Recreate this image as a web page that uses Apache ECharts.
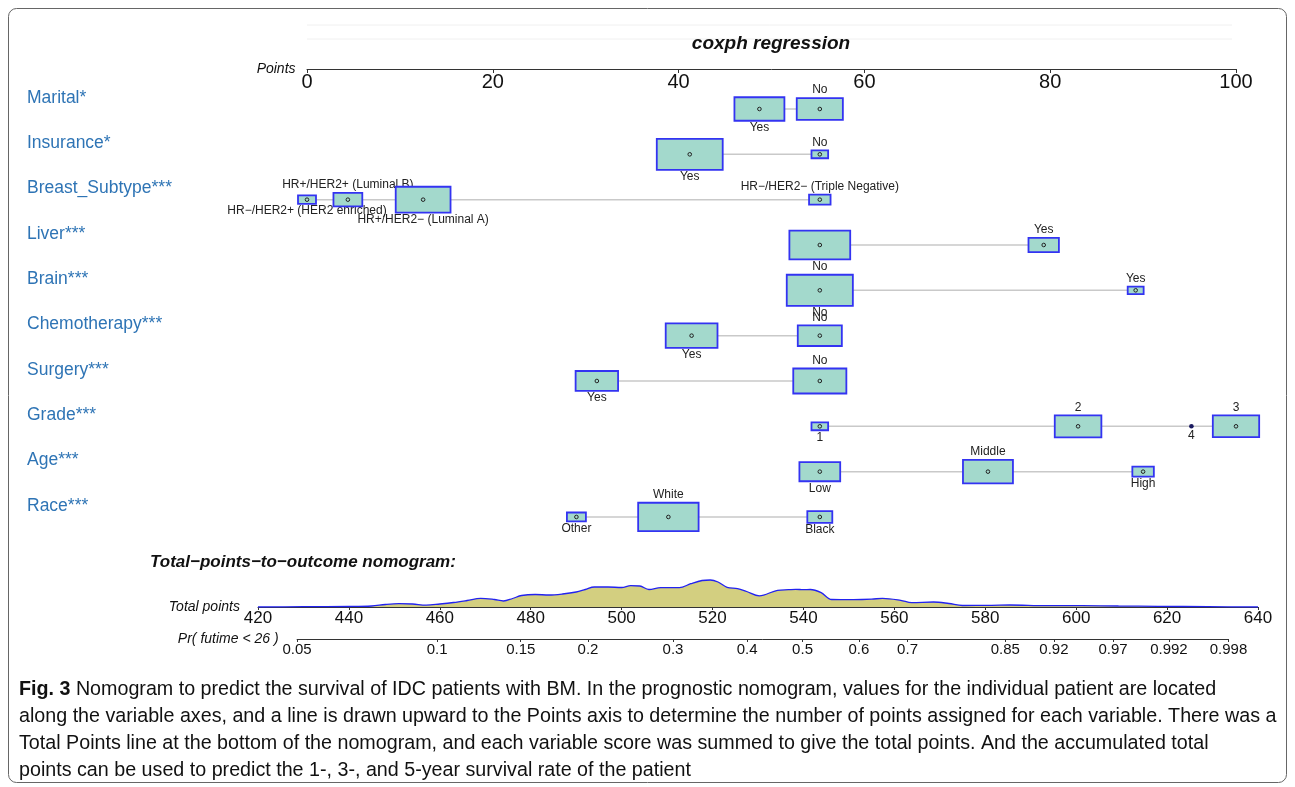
<!DOCTYPE html>
<html><head><meta charset="utf-8">
<script src="https://cdn.jsdelivr.net/npm/echarts@6/dist/echarts.min.js"></script>
<style>html,body{margin:0;padding:0;background:#fff}#chart{width:1295px;height:787px}</style>
</head><body><div id="chart"></div>
<script>
// ---------- DATA ----------
const variableNames = ['Marital*','Insurance*','Breast_Subtype***','Liver***','Brain***','Chemotherapy***','Surgery***','Grade***','Age***','Race***'];
const levelNames = [
  ['Yes','No'],
  ['Yes','No'],
  ['HR\u2212/HER2+ (HER2 enriched)','HR+/HER2+ (Luminal B)','HR+/HER2\u2212 (Luminal A)','HR\u2212/HER2\u2212 (Triple Negative)'],
  ['No','Yes'],
  ['No','Yes'],
  ['Yes','No'],
  ['Yes','No'],
  ['1','2','4','3'],
  ['Low','Middle','High'],
  ['Other','White','Black']
];
const levelPoints = [
  [48.7,55.2],
  [41.2,55.2],
  [0,4.4,12.5,55.2],
  [55.2,79.3],
  [55.2,89.2],
  [41.4,55.2],
  [31.2,55.2],
  [55.2,83.0,95.2,100],
  [55.2,73.3,90.0],
  [29.0,38.9,55.2]
];
const levelFreq = [
  [0.54,0.46],
  [0.94,0.06],
  [0.07,0.18,0.65,0.10],
  [0.80,0.20],
  [0.945,0.055],
  [0.58,0.42],
  [0.39,0.61],
  [0.06,0.47,0.005,0.465],
  [0.36,0.54,0.10],
  [0.078,0.79,0.135]
];
const pointsTicks = [0,20,40,60,80,100];
const totalPointsTicks = [420,440,460,480,500,520,540,560,580,600,620,640];
const densityTotalPoints = [420,430,440,445,448,451,454,457,460,463,466,469,472,474,476,478,481,484,487,490,492,494,497,500,502,504,506,508.6,512.7,515.2,517.7,519.5,521.2,523.2,525.5,527.5,530.3,534.3,536.7,538.3,540,541.5,543.9,546.2,551,555,557.4,561.4,563.8,568.6,572,575,581.4,585.4,593.4,601.3,609.3,618,629,640];
const densityValues =      [0,0.3,0.5,1,2.5,3.3,3,1.8,3,4.5,6.5,8.7,7.5,6,8.5,11.5,12.5,12,13,15,17.5,20,20,19.5,21.3,21,17.5,19.3,19.3,23.3,26.5,27,25,19.7,18.3,15.5,11.2,16.7,17.3,17.7,17.3,17.5,14.3,7.5,7.3,7.8,8.7,6.7,4.3,5,3.5,1.5,1.7,2,1.3,1.3,1,0.7,0.3,0];
const probTickLabels = ['0.05','0.1','0.15','0.2','0.3','0.4','0.5','0.6','0.7','0.85','0.92','0.97','0.992','0.998'];
const probTickTotalPoints = [428.6,459.4,477.8,492.6,511.3,527.6,539.8,552.2,562.9,584.4,595.1,608.1,620.4,633.5];

// ---------- LAYOUT / STYLE ----------
const FONT = '"Liberation Sans", Arial, Helvetica, sans-serif';
const ROW0_Y = 109, ROW_GAP = 45.33, PTS_TOP = 69;
const TP_LEFT = 258, TP_WIDTH = 1000;
const tpMin = totalPointsTicks[0], tpMax = totalPointsTicks[totalPointsTicks.length-1];
const tpPx = TP_WIDTH / (tpMax - tpMin);
const prLeft = TP_LEFT + (probTickTotalPoints[0] - tpMin) * tpPx;
const prWidth = (probTickTotalPoints[probTickTotalPoints.length-1] - probTickTotalPoints[0]) * tpPx;

// flat box items with alternating label side (sorted by position)
const boxItems = [];
const rowLineData = [];
levelPoints.forEach((pts, r) => {
  const order = pts.map((p, i) => i).sort((a, b) => pts[a] - pts[b]);
  order.forEach((i, k) => {
    boxItems.push({ value: [pts[i], r, levelFreq[r][i], k % 2 === 0 ? 1 : -1], name: levelNames[r][i] });
  });
  rowLineData.push([Math.min(...pts), Math.max(...pts), r]);
});

const chart = echarts.init(document.getElementById('chart'), null, { renderer: 'canvas' });
const option = {
  animation: false,
  backgroundColor: '#fff',
  textStyle: { fontFamily: FONT },
  grid: [
    { left: 307, width: 929, top: PTS_TOP, height: 10 * ROW_GAP + (ROW0_Y - PTS_TOP) },
    { left: TP_LEFT, width: TP_WIDTH, top: 567, height: 40 },
    { left: prLeft, width: prWidth, top: 600, height: 39 }
  ],
  xAxis: [
    { gridIndex: 0, type: 'value', position: 'top', min: pointsTicks[0], max: pointsTicks[pointsTicks.length-1], interval: 20,
      axisLine: { show: true, onZero: false, lineStyle: { color: '#333', width: 1 } },
      axisTick: { show: true, inside: true, length: 4, lineStyle: { color: '#333' } },
      axisLabel: { inside: true, margin: 3, fontSize: 20, color: '#111', fontFamily: FONT },
      splitLine: { show: false },
      name: 'Points', nameLocation: 'start', nameGap: 6,
      nameTextStyle: { fontStyle: 'italic', fontSize: 14, color: '#111', fontFamily: FONT, padding: [0, 0, 4, 0] } },
    { gridIndex: 1, type: 'value', position: 'bottom', min: tpMin, max: tpMax, interval: 20,
      axisLine: { show: true, onZero: false, lineStyle: { color: '#333', width: 1 } },
      axisTick: { show: true, length: 3, lineStyle: { color: '#333' } },
      axisLabel: { margin: 3, fontSize: 17, color: '#111', fontFamily: FONT },
      splitLine: { show: false },
      name: 'Total points', nameLocation: 'start', nameGap: 2,
      nameTextStyle: { fontStyle: 'italic', fontSize: 14, color: '#111', fontFamily: FONT, padding: [0, 0, 4, 0] } },
    { gridIndex: 2, type: 'value', position: 'bottom', min: probTickTotalPoints[0], max: probTickTotalPoints[probTickTotalPoints.length-1],
      axisLine: { show: true, onZero: false, lineStyle: { color: '#333', width: 1 } },
      axisTick: { show: true, length: 3, customValues: probTickTotalPoints, lineStyle: { color: '#333' } },
      axisLabel: { margin: 3, fontSize: 15, color: '#111', fontFamily: FONT, customValues: probTickTotalPoints,
        formatter: v => { let best = 0; probTickTotalPoints.forEach((t, i) => { if (Math.abs(t - v) < Math.abs(probTickTotalPoints[best] - v)) best = i; }); return probTickLabels[best]; } },
      splitLine: { show: false },
      name: 'Pr( futime < 26 )', nameLocation: 'start', nameGap: 2,
      nameTextStyle: { fontStyle: 'italic', fontSize: 14, color: '#111', fontFamily: FONT, padding: [0, 0, 4, 0] } }
  ],
  yAxis: [
    { gridIndex: 0, type: 'value', inverse: true, min: -(ROW0_Y - PTS_TOP) / ROW_GAP, max: 10,
      axisLine: { show: false }, axisTick: { show: false }, splitLine: { show: false },
      axisLabel: { customValues: variableNames.map((n, i) => i), formatter: v => variableNames[Math.round(v)] || '',
        align: 'left', margin: 280, verticalAlign: 'bottom', lineHeight: 22, fontSize: 17.5, color: '#2e74b5', fontFamily: FONT } },
    { gridIndex: 1, type: 'value', min: 0, max: 40, show: false },
    { gridIndex: 2, type: 'value', min: 0, max: 1, show: false }
  ],
  series: [
    { type: 'custom', xAxisIndex: 0, yAxisIndex: 0, data: rowLineData, silent: true, z: 1,
      renderItem: (params, api) => {
        const a = api.coord([api.value(0), api.value(2)]);
        const b = api.coord([api.value(1), api.value(2)]);
        return { type: 'line', shape: { x1: a[0], y1: a[1], x2: b[0], y2: b[1] }, style: { stroke: '#c9c9c9', lineWidth: 1.5 } };
      } },
    { type: 'custom', xAxisIndex: 0, yAxisIndex: 0, data: boxItems, silent: true, z: 2,
      renderItem: (params, api) => {
        const c = api.coord([api.value(0), api.value(1)]);
        const f = api.value(2), side = api.value(3);
        const w = 68 * Math.sqrt(f), h = 32 * Math.sqrt(f);
        const name = boxItems[params.dataIndex].name;
        const children = [];
        if (w < 8) {
          children.push({ type: 'circle', shape: { cx: c[0], cy: c[1], r: 2.3 }, style: { fill: '#1a1a60' } });
        } else {
          children.push({ type: 'rect', shape: { x: c[0] - w / 2, y: c[1] - h / 2, width: w, height: h },
            style: { fill: '#a3d9cc', stroke: '#3333f2', lineWidth: 1.8 } });
          children.push({ type: 'circle', shape: { cx: c[0], cy: c[1], r: 1.8 }, style: { fill: '#a3d9cc', stroke: '#222', lineWidth: 1 } });
        }
        const hh = Math.max(h, 4);
        const ty = side > 0 ? c[1] + hh / 2 + 7 : c[1] - hh / 2 - 8;
        children.push({ type: 'text', x: c[0], y: ty,
          style: { text: name, fill: '#222', font: '12px ' + FONT, align: 'center', verticalAlign: 'middle', textAlign: 'center', textVerticalAlign: 'middle' } });
        return { type: 'group', children };
      } },
    { type: 'line', xAxisIndex: 1, yAxisIndex: 1, data: densityTotalPoints.map((t, i) => [t, densityValues[i]]),
      smooth: 0.35, showSymbol: false, silent: true,
      lineStyle: { color: '#2222f0', width: 1.3 },
      areaStyle: { color: '#d3cf80', opacity: 1 } }
  ],
  graphic: [
    { type: 'rect', shape: { x: 8.5, y: 8.5, width: 1278, height: 774, r: 8 }, style: { fill: 'none', stroke: '#666', lineWidth: 1 }, silent: true },
    { type: 'line', shape: { x1: 307, y1: 25, x2: 1232, y2: 25 }, style: { stroke: '#f0f0f0', lineWidth: 1 }, silent: true },
    { type: 'line', shape: { x1: 307, y1: 39, x2: 1232, y2: 39 }, style: { stroke: '#f0f0f0', lineWidth: 1 }, silent: true },
    { type: 'text', x: 771, y: 44, style: { text: 'coxph regression', font: 'italic bold 19px ' + FONT, fill: '#111', align: 'center', verticalAlign: 'middle', textAlign: 'center', textVerticalAlign: 'middle' } },
    { type: 'text', x: 150, y: 562, style: { text: 'Total\u2212points\u2212to\u2212outcome nomogram:', font: 'italic bold 17px ' + FONT, fill: '#111', verticalAlign: 'middle', textVerticalAlign: 'middle' } },
    { type: 'text', x: 19, y: 676, style: {
        text: '{b|Fig. 3} Nomogram to predict the survival of IDC patients with BM. In the prognostic nomogram, values for the individual patient are located\nalong the variable axes, and a line is drawn upward to the Points axis to determine the number of points assigned for each variable. There was a\nTotal Points line at the bottom of the nomogram, and each variable score was summed to give the total points. And the accumulated total\npoints can be used to predict the 1-, 3-, and 5-year survival rate of the patient',
        font: '19.7px ' + FONT, fill: '#111', lineHeight: 27,
        rich: { b: { font: 'bold 19.7px ' + FONT, fill: '#111', lineHeight: 27 } } } }
  ]
};
chart.setOption(option);
</script>
</body></html>
